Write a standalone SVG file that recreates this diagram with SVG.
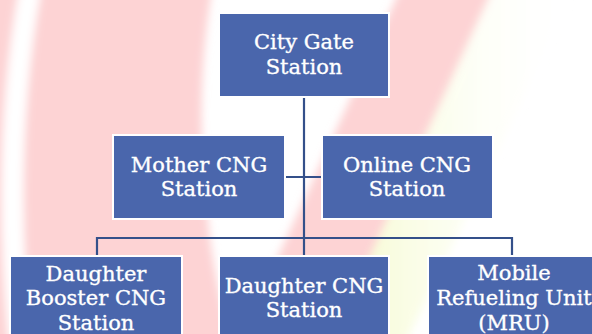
<svg xmlns="http://www.w3.org/2000/svg" width="592" height="334" viewBox="0 0 592 334">
  <defs>
    <style>
      .box { fill: #4a66ac; stroke: #ffffff; stroke-width: 2; }
      .lbl { font-family: "DejaVu Serif", "Liberation Serif", serif; font-size: 21px; fill: #ffffff; stroke: #ffffff; stroke-width: 0.35; text-anchor: middle; }
      .conn { fill: none; stroke: #34508a; stroke-width: 2.2; }
    </style>
    <linearGradient id="yg" x1="0" y1="0" x2="1" y2="0">
      <stop offset="0" stop-color="#f4fbc8"/>
      <stop offset="1" stop-color="#ffffff" stop-opacity="0"/>
    </linearGradient>
    <filter id="soft" x="-20%" y="-20%" width="140%" height="140%">
      <feGaussianBlur stdDeviation="4"/>
    </filter>
  </defs>
  <rect width="592" height="334" fill="#ffffff"/>
  <g id="background" filter="url(#soft)">
    <path d="M-10,-10 L212,-10 C200,60 198,140 208,220 C212,260 220,300 232,344 L-10,344 Z" fill="#fdd3d4"/>
    <path d="M400,-10 L492,-10 L330,344 L238,344 Z" fill="#fdd3d4"/>
    <path d="M492,-10 L575,-10 L405,344 L330,344 Z" fill="url(#yg)"/>
    <path d="M30,-10 C10,100 8,220 20,344" fill="none" stroke="#ffffff" stroke-width="22"/>
  </g>
  <g id="connectors">
    <line class="conn" x1="304" y1="97" x2="304" y2="256"/>
    <line class="conn" x1="286" y1="177" x2="322" y2="177"/>
    <polyline class="conn" points="97,256 97,238 512,238 512,256"/>
  </g>
  <g id="city-gate">
    <rect class="box" x="219" y="13" width="170" height="84"/>
    <text class="lbl" x="304" y="49">City Gate</text>
    <text class="lbl" x="304" y="74">Station</text>
  </g>
  <g id="mother-cng">
    <rect class="box" x="113" y="135" width="172" height="84"/>
    <text class="lbl" x="199" y="172">Mother CNG</text>
    <text class="lbl" x="199" y="196">Station</text>
  </g>
  <g id="online-cng">
    <rect class="box" x="322" y="135" width="171" height="84"/>
    <text class="lbl" x="407" y="172">Online CNG</text>
    <text class="lbl" x="407" y="196">Station</text>
  </g>
  <g id="daughter-booster">
    <rect class="box" x="10" y="256" width="172" height="90"/>
    <text class="lbl" x="96" y="281">Daughter</text>
    <text class="lbl" x="96" y="305">Booster CNG</text>
    <text class="lbl" x="96" y="330">Station</text>
  </g>
  <g id="daughter-cng">
    <rect class="box" x="219" y="256" width="170" height="90"/>
    <text class="lbl" x="304" y="293">Daughter CNG</text>
    <text class="lbl" x="304" y="317">Station</text>
  </g>
  <g id="mru">
    <rect class="box" x="428" y="256" width="172" height="90"/>
    <text class="lbl" x="514" y="280">Mobile</text>
    <text class="lbl" x="514" y="305">Refueling Unit</text>
    <text class="lbl" x="514" y="330">(MRU)</text>
  </g>
</svg>
